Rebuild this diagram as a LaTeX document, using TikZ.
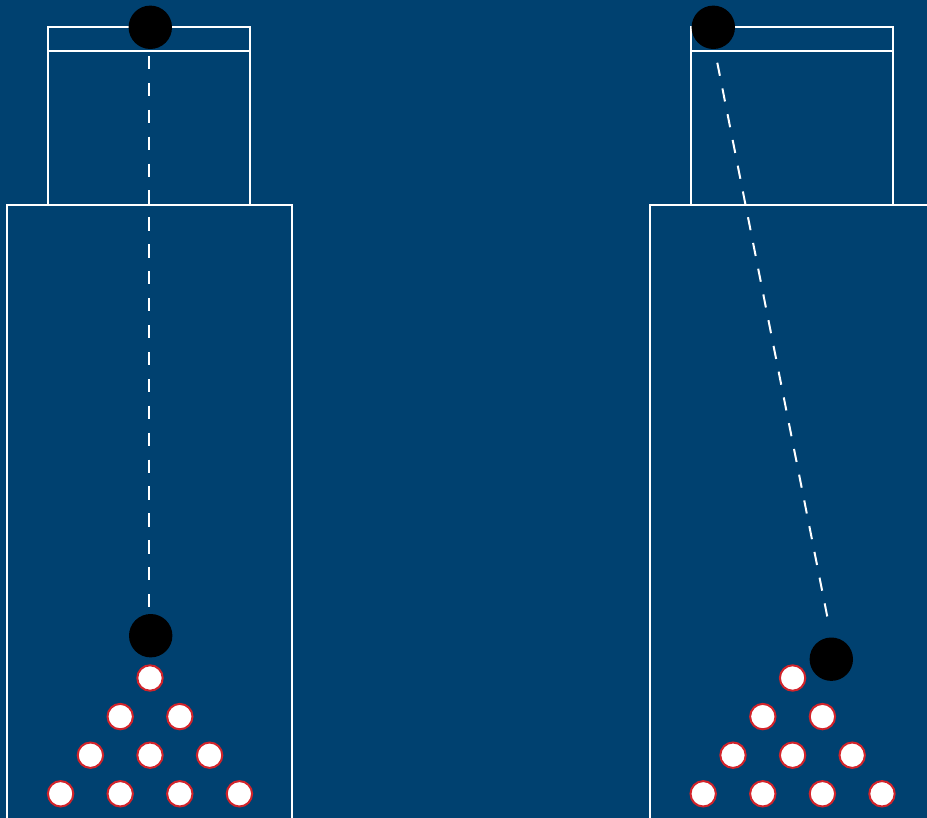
\documentclass[tikz,border=0pt]{standalone}
\definecolor{field}{RGB}{0,65,112}
\definecolor{pinred}{RGB}{210,35,42}
\begin{document}
\begin{tikzpicture}[x=1pt,y=-1pt,
  frame/.style={draw=white,line width=2pt},
  ball/.style={circle,fill=black,minimum size=43.4pt,inner sep=0pt},
  pin/.style={circle,draw=pinred,fill=white,line width=2pt,minimum size=25.4pt,inner sep=0pt},
  track/.style={draw=white,line width=2pt,dash pattern=on 13.3pt off 13.6pt}]
\fill[field] (0,0) rectangle (927,818);
\useasboundingbox (0,0) rectangle (927,818);
\clip (0,0) rectangle (927,818);

% two lanes, the second shifted to the right
\foreach \side/\dx in {L/0,R/642.6}{
  \begin{scope}[xshift=\dx]
    \draw[frame] (48.3,27.3) rectangle (250,50.7);
    \draw[frame] (48.3,50.7) rectangle (250,205);
    \draw[frame] (7.3,205) rectangle (291.7,830);
  \end{scope}
}

% ball paths
\coordinate (trackL1) at (149,56);
\coordinate (trackL2) at (149,606.7);
\coordinate (trackR1) at (717.3,62.7);
\coordinate (trackR2) at (827.3,616.7);
\draw[track] (trackL1) -- (trackL2);
\draw[track,dash pattern=on 13.3pt off 12.95pt] (trackR1) -- (trackR2);

% balls: start and end positions
\node[ball] (startL) at (150.3,27.3) {};
\node[ball] (endL) at (150.7,635.7) {};
\node[ball] (startR) at (713.3,27.3) {};
\node[ball] (endR) at (831.3,659.2) {};

% pin triangles
\foreach \side/\ax in {L/150,R/792.6}{
  \foreach \r in {0,...,3}{
    \foreach \k in {0,...,\r}{
      \node[pin] (pin\side-\r-\k) at ({\ax+(\k-\r/2)*59.6},{678+\r*38.6}) {};
    }
  }
}
\end{tikzpicture}
\end{document}
